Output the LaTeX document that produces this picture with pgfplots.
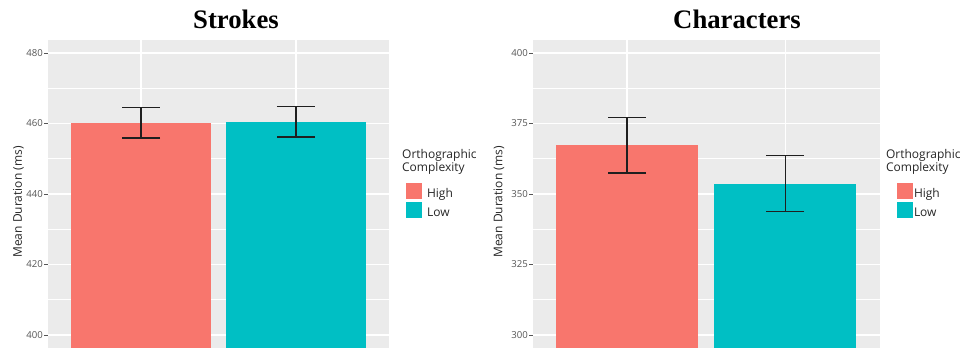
\documentclass[border=0pt]{standalone}
\usepackage{pgfplots}
\pgfplotsset{compat=1.18}
\usepackage{fontspec}
\setmainfont{Open Sans}
\newfontfamily\titlefont{Liberation Serif}
\definecolor{ggred}{HTML}{F8766D}
\definecolor{ggcyan}{HTML}{00BFC4}
\definecolor{ggbg}{HTML}{EBEBEB}
\definecolor{ggtick}{HTML}{555555}
\definecolor{gglab}{HTML}{262626}
\pgfplotsset{
  ggstyle/.style={
    scale only axis,
    height=308pt,
    axis background/.style={fill=ggbg},
    axis line style={draw=none},
    xmajorgrids, ymajorgrids, yminorgrids,
    major grid style={white, line width=1.3pt},
    minor grid style={white, line width=0.7pt},
    xtick={1,2}, xticklabels={},
    xtick style={draw=none},
    ytick pos=left,
    ytick style={draw=ggtick, line width=0.8pt},
    tick align=outside,
    major tick length=4pt,
    minor tick length=0pt,
    /pgf/number format/assume math mode=true,
    yticklabel style={font=\fontsize{9.6}{10}\selectfont, text=ggtick, inner sep=1pt},
    legend cell align=left,
    legend style={draw=none, fill=none, inner sep=0pt, outer sep=0pt, row sep=3pt,
      font=\fontsize{12}{13}\selectfont, text=gglab, nodes={inner sep=0pt}},
    clip mode=individual,
  },
  ggbar/.style={ybar, bar shift=0pt, bar width=0.9, fill=#1, draw=none,
    error bars/.cd, y dir=both, y explicit,
    error bar style={line width=1.3pt, black!88},
    error mark options={line width=1.3pt, black!88, mark size=19pt, rotate=90}},
}
\begin{document}
\begin{tikzpicture}
\useasboundingbox (0,0) rectangle (962pt,348pt);
% ---------- Strokes ----------
\begin{axis}[ggstyle,
  at={(48pt,0pt)}, anchor=south west, width=341pt,
  xmin=0.4, xmax=2.6,
  ymin=396.31, ymax=483.69,
  ytick={400,420,440,460,480},
  minor ytick={410,430,450,470},
  ylabel={Mean Duration (ms)},
  ylabel style={at={(axis description cs:-0.0865,0.474)}, anchor=center,
    font=\fontsize{12}{13}\selectfont, text=gglab},
  legend style={at={(axis description cs:1.050,0.536)}, anchor=north west},
  legend image code/.code={\fill[#1] (0pt,-5pt) rectangle (16pt,11pt); \path (21pt,0pt);},
]
\addplot[ggbar=ggred] coordinates {(1,460.2) +- (0,4.3)};
\addlegendentry{High}
\addplot[ggbar=ggcyan] coordinates {(2,460.5) +- (0,4.3)};
\addlegendentry{Low}
\node[anchor=north west, align=left, inner sep=0pt, font=\fontsize{12}{13.5}\selectfont, text=gglab]
  at (axis description cs:1.038,0.646) {Orthographic\\Complexity};
\end{axis}
% ---------- Characters ----------
\begin{axis}[ggstyle,
  at={(533pt,0pt)}, anchor=south west, width=347pt,
  xmin=0.405, xmax=2.60,
  ymin=295.39, ymax=404.61,
  ytick={300,325,350,375,400},
  minor ytick={312.5,337.5,362.5,387.5},
  ylabel={Mean Duration (ms)},
  ylabel style={at={(axis description cs:-0.098,0.474)}, anchor=center,
    font=\fontsize{12}{13}\selectfont, text=gglab},
  legend style={at={(axis description cs:1.049,0.536)}, anchor=north west},
  legend image code/.code={\fill[#1] (0pt,-5pt) rectangle (16pt,11pt); \path (17pt,0pt);},
]
\addplot[ggbar=ggred] coordinates {(1,367.3) +- (0,9.9)};
\addlegendentry{High}
\addplot[ggbar=ggcyan] coordinates {(2,353.7) +- (0,9.9)};
\addlegendentry{Low}
\node[anchor=north west, align=left, inner sep=0pt, font=\fontsize{12}{13.5}\selectfont, text=gglab]
  at (axis description cs:1.017,0.646) {Orthographic\\Complexity};
\end{axis}
% ---------- titles ----------
\node[anchor=base, inner sep=0pt, font=\titlefont\bfseries\fontsize{26.7}{30}\selectfont] at (236pt,319pt) {Strokes};
\node[anchor=base, inner sep=0pt, font=\titlefont\bfseries\fontsize{26.7}{30}\selectfont] at (737pt,319pt) {Characters};
\end{tikzpicture}
\end{document}
